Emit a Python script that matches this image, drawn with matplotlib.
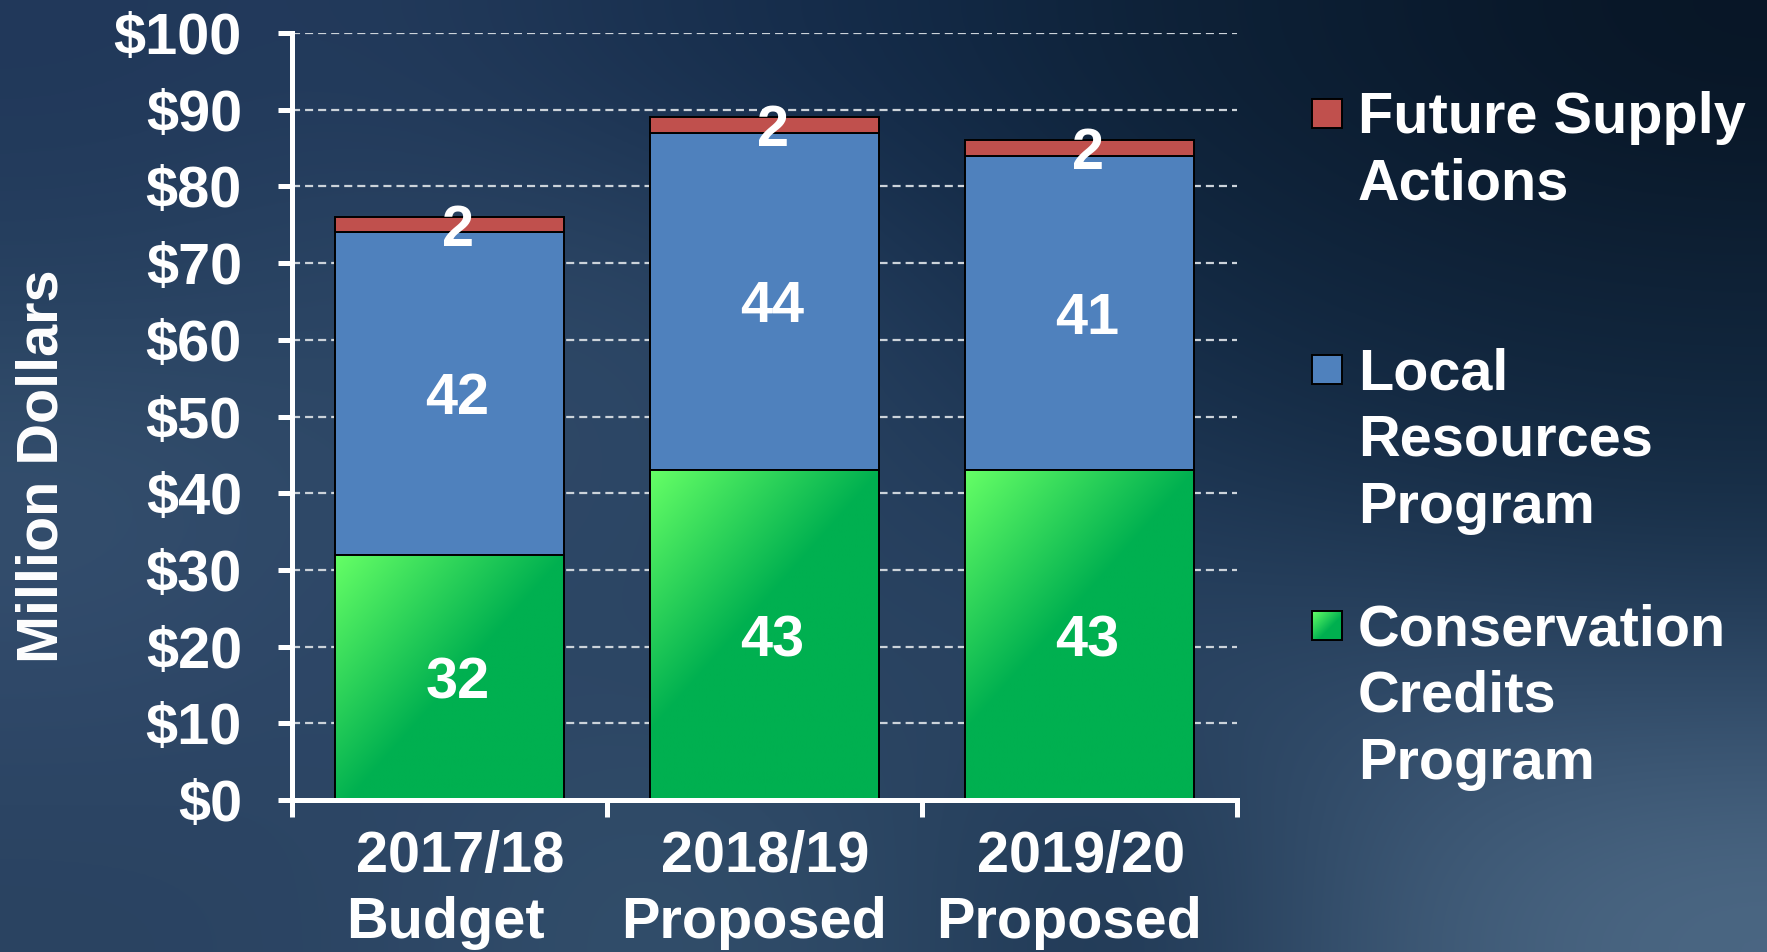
import numpy as np
import matplotlib
matplotlib.use('Agg')
import matplotlib.pyplot as plt
from matplotlib.patches import Rectangle
from matplotlib.colors import to_rgb

plt.rcParams['font.family'] = ['Liberation Sans', 'DejaVu Sans']
plt.rcParams['font.weight'] = 'bold'
plt.rcParams['lines.scale_dashes'] = False

# ─── data ──────────────────────────────────────────────────
YEARS = ['2017/18', '2018/19', '2019/20']
STAGES = ['Budget', 'Proposed', 'Proposed']
CONSERVATION = [32, 43, 43]
LOCAL = [42, 44, 41]
FUTURE = [2, 2, 2]
LEGEND_LABELS = ['Future Supply\nActions',
                 'Local\nResources\nProgram',
                 'Conservation\nCredits\nProgram']
YTICKS = np.arange(0, 101, 10)
YTICKLABELS = [f'${v}' for v in YTICKS]
YLABEL = 'Million Dollars'

# ─── style ─────────────────────────────────────────────────
GREEN_LT, GREEN = '#66ff66', '#00b050'
BLUE, RED = '#4f81bd', '#c0504d'
FS = 41.5
W, H, DPI = 1767, 952, 100
# small horizontal nudges (px) seen in the original's category labels
DX_LINE1 = [11, 1, 2]
DX_LINE2 = [-4, -11, -11]

# coarse background colour field (top row first), smoothed by imshow
BG = [
    ['#21385a', '#233b5c', '#1a3150', '#132a48', '#0e2238', '#0b1c30', '#081626'],
    ['#26405f', '#2b4564', '#2f4967', '#1f3858', '#132a44', '#10243b', '#0f2237'],
    ['#36516f', '#2d4766', '#2f4968', '#263f5e', '#1d3654', '#172e48', '#142b43'],
    ['#30496a', '#2c4565', '#2c4563', '#2a4361', '#2c4664', '#304a68', '#2c4664'],
    ['#2a4361', '#2c4564', '#33506c', '#2d4865', '#1c3450', '#3d5875', '#4c6884'],
]


def gradient(w_px, h_px, sx, sy, c0, c1):
    xs = np.arange(max(int(w_px), 2))
    ys = np.arange(max(int(h_px), 2))
    t = np.clip(xs[None, :] / sx + ys[:, None] / sy, 0, 1)[..., None]
    return (1 - t) * np.array(to_rgb(c0)) + t * np.array(to_rgb(c1))


fig = plt.figure(figsize=(W / DPI, H / DPI), dpi=DPI)

bg = fig.add_axes([0, 0, 1, 1], zorder=0)
bg_rgb = np.array([[to_rgb(c) for c in row] for row in BG])
bg.imshow(bg_rgb, extent=(0, W, H, 0), interpolation='bicubic', aspect='auto')
bg.set_xlim(0, W)
bg.set_ylim(H, 0)
bg.axis('off')

ax = fig.add_axes([292 / W, 1 - 800 / H, 945 / W, 767 / H], zorder=1)
ax.patch.set_alpha(0)
ax.set_xlim(-0.5, len(YEARS) - 0.5)
ax.set_ylim(0, 100)

x = np.arange(len(YEARS))
bw = 0.726
edge = dict(edgecolor='black', linewidth=1.4)
b_con = ax.bar(x, CONSERVATION, bw, color=GREEN, zorder=2, **edge)
b_loc = ax.bar(x, LOCAL, bw, bottom=CONSERVATION, color=BLUE, zorder=2, **edge)
b_fut = ax.bar(x, FUTURE, bw, bottom=np.add(CONSERVATION, LOCAL), color=RED,
               zorder=2, **edge)

# green gradient fill, clipped to each conservation bar
for rect in b_con:
    x0, y0 = rect.get_x(), rect.get_y()
    x1, y1 = x0 + rect.get_width(), y0 + rect.get_height()
    (px0, py0), (px1, py1) = ax.transData.transform([(x0, y0), (x1, y1)])
    img = gradient(px1 - px0, py1 - py0, 230, 260, GREEN_LT, GREEN)
    im = ax.imshow(img, extent=(x0, x1, y0, y1), origin='upper',
                   aspect='auto', zorder=2.1, interpolation='bilinear')
    im.set_clip_path(rect)
ax.bar(x, CONSERVATION, bw, fill=False, zorder=2.2, **edge)
ax.set_xlim(-0.5, len(YEARS) - 0.5)
ax.set_ylim(0, 100)

# value labels
for bars, vals in [(b_con, CONSERVATION), (b_loc, LOCAL), (b_fut, FUTURE)]:
    for rect, v in zip(bars, vals):
        ax.annotate(f'{v}', xy=(rect.get_x() + rect.get_width() / 2,
                                rect.get_y() + rect.get_height() / 2),
                    xytext=(8, 0), textcoords='offset pixels',
                    ha='center', va='center_baseline', color='white',
                    fontsize=FS, fontweight='bold', zorder=5)

# axes styling
for s in ['top', 'right']:
    ax.spines[s].set_visible(False)
for s in ['left', 'bottom']:
    ax.spines[s].set_color('white')
    ax.spines[s].set_linewidth(3.6)
ax.set_yticks(YTICKS, YTICKLABELS)
ax.tick_params(axis='y', length=10, width=3.6, color='white', pad=26,
               labelsize=FS, labelcolor='white')
ax.set_xticks(np.arange(len(YEARS) + 1) - 0.5)
ax.set_xticklabels([])
ax.tick_params(axis='x', length=12, width=3.6, color='white')
ax.set_axisbelow(True)
ax.yaxis.grid(True, color='#ccd3da', linewidth=1.6, linestyle=(0, (5.8, 3.6)))
ax.xaxis.grid(False)

# two-line category labels
for i, (yr, st) in enumerate(zip(YEARS, STAGES)):
    ax.annotate(yr, xy=(x[i], 0), xycoords=('data', 'axes fraction'),
                xytext=(DX_LINE1[i], -72), textcoords='offset pixels',
                ha='center', va='baseline', color='white', fontsize=FS,
                fontweight='bold')
    ax.annotate(st, xy=(x[i], 0), xycoords=('data', 'axes fraction'),
                xytext=(DX_LINE2[i], -138), textcoords='offset pixels',
                ha='center', va='baseline', color='white', fontsize=FS,
                fontweight='bold')

bg.text(43, 466, YLABEL, rotation=90, ha='center', va='center',
        color='white', fontsize=FS, fontweight='bold')

# legend (top to bottom)
leg_colors = [RED, BLUE, GREEN]
for k, (lab, col) in enumerate(zip(LEGEND_LABELS, leg_colors)):
    base = 133 + 256 * k
    sq = Rectangle((1312, base - 34), 30, 29, facecolor=col,
                   edgecolor='black', linewidth=1.4, zorder=3)
    bg.add_patch(sq)
    if col == GREEN:
        im = bg.imshow(gradient(30, 29, 34, 34, GREEN_LT, GREEN),
                       extent=(1312, 1342, base - 5, base - 34),
                       origin='upper', aspect='auto', zorder=3.1)
        im.set_clip_path(sq)
        bg.add_patch(Rectangle((1312, base - 34), 30, 29, fill=False,
                               edgecolor='black', linewidth=1.4, zorder=3.2))
    for j, line in enumerate(lab.split('\n')):
        bg.text(1358, base + 67 * j, line, ha='left', va='baseline',
                color='white', fontsize=FS, fontweight='bold')
bg.set_xlim(0, W)
bg.set_ylim(H, 0)

fig.savefig('out.png', dpi=DPI)
